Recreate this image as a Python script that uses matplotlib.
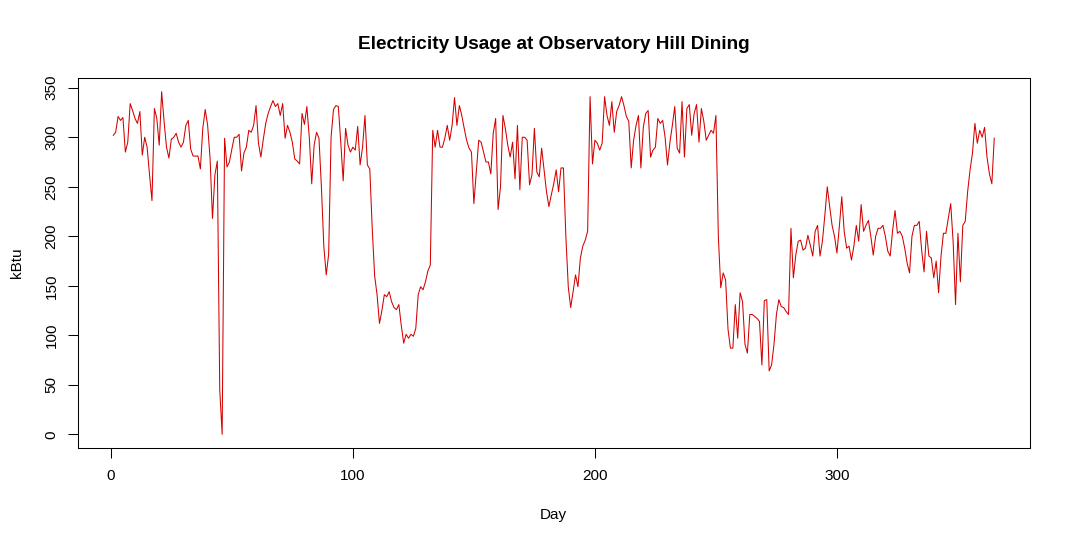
import matplotlib

matplotlib.use("Agg")
import matplotlib.pyplot as plt

plt.rcParams["font.family"] = ["Liberation Sans", "DejaVu Sans"]

# daily electricity use (kBtu)
kbtu = [
    302, 305, 321, 317, 320, 285, 295, 334, 327, 319,
    314, 326, 282, 300, 290, 262, 236, 329, 319, 292,
    346, 316, 290, 279, 298, 300, 304, 295, 290, 295,
    312, 317, 288, 281, 281, 281, 268, 309, 328, 312,
    279, 218, 262, 276, 45, 0, 299, 270, 275, 288,
    300, 300, 303, 266, 284, 290, 307, 305, 312, 332,
    294, 280, 298, 314, 324, 331, 337, 331, 334, 322,
    334, 299, 312, 305, 295, 278, 276, 273, 324, 313,
    331, 300, 253, 292, 305, 299, 250, 190, 161, 182,
    300, 328, 332, 331, 295, 256, 309, 292, 285, 290,
    287, 311, 272, 290, 322, 272, 268, 208, 160, 141,
    112, 125, 141, 139, 144, 134, 128, 126, 131, 110,
    92, 101, 97, 101, 99, 107, 141, 149, 146, 154,
    165, 171, 307, 290, 307, 290, 290, 299, 312, 297,
    312, 340, 312, 332, 322, 309, 297, 289, 285, 233,
    265, 297, 295, 285, 275, 275, 263, 304, 319, 227,
    250, 322, 309, 292, 280, 295, 258, 312, 247, 300,
    300, 297, 252, 262, 309, 265, 260, 289, 267, 245,
    230, 242, 253, 267, 245, 269, 269, 200, 149, 128,
    144, 161, 149, 178, 190, 196, 205, 341, 273, 297,
    294, 287, 294, 341, 322, 312, 336, 305, 326, 332,
    341, 332, 321, 316, 269, 297, 312, 322, 269, 310,
    324, 327, 280, 287, 290, 319, 314, 317, 300, 272,
    295, 312, 331, 289, 284, 336, 280, 329, 333, 302,
    324, 333, 295, 329, 316, 297, 302, 307, 304, 322,
    200, 148, 163, 156, 106, 87, 87, 131, 97, 143,
    134, 91, 82, 121, 121, 119, 117, 114, 70, 135,
    136, 64, 70, 91, 121, 136, 129, 128, 124, 121,
    208, 158, 181, 195, 196, 186, 188, 201, 191, 180,
    205, 211, 180, 195, 221, 250, 230, 211, 200, 183,
    210, 240, 205, 188, 190, 176, 190, 211, 195, 232,
    205, 211, 216, 200, 181, 200, 208, 208, 211, 200,
    185, 180, 206, 226, 203, 205, 200, 188, 173, 163,
    200, 211, 211, 215, 186, 164, 205, 180, 178, 158,
    175, 143, 180, 203, 203, 218, 233, 195, 131, 203,
    154, 211, 215, 245, 267, 284, 314, 294, 307, 300,
    310, 280, 263, 253, 299,
]
days = list(range(1, len(kbtu) + 1))

x_ticks = [0, 100, 200, 300]
y_ticks = [0, 50, 100, 150, 200, 250, 300, 350]

fig = plt.figure(figsize=(10.69, 5.46), dpi=100)
ax = fig.add_axes([78 / 1069, 1 - 448 / 546, 951.5 / 1069, 370 / 546])

ax.plot(days, kbtu, color="#d40000", linewidth=0.75)

# R-style 4% padding around the data range
ax.margins(x=0.04, y=0.04)

ax.set_xticks(x_ticks)
ax.set_yticks(y_ticks)
ax.tick_params(direction="out", length=7, width=0.75, labelsize=11, colors="black")
ax.tick_params(axis="x", pad=8)
ax.tick_params(axis="y", pad=7)
plt.setp(ax.get_yticklabels(), rotation=90, va="center")

for spine in ax.spines.values():
    spine.set_linewidth(0.75)

ax.set_title(
    "Electricity Usage at Observatory Hill Dining",
    fontsize=13.7,
    fontweight="bold",
    pad=21,
)
ax.set_xlabel("Day", fontsize=11)
ax.set_ylabel("kBtu", fontsize=11)
ax.xaxis.set_label_coords(0.5, -(508 - 448) / 370)
ax.yaxis.set_label_coords(-(78 - 24) / 951.5, 0.5)

fig.savefig("out.png", dpi=100)
